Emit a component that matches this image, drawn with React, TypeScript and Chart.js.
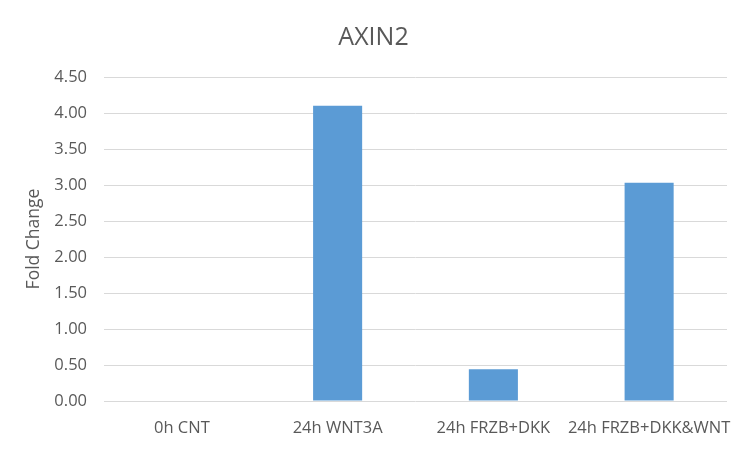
import React, { useEffect, useRef } from "react";
import { Chart, registerables } from "chart.js";

Chart.register(...registerables);

const categories = ["0h CNT", "24h WNT3A", "24h FRZB+DKK", "24h FRZB+DKK&WNT"];
const foldChange = [0, 4.1, 0.44, 3.03];
const titleText = "AXIN2";
const yAxisTitle = "Fold Change";

export default function App() {
  const ref = useRef<HTMLCanvasElement | null>(null);

  useEffect(() => {
    document.body.style.margin = "0";
    if (!ref.current) return;
    const font = "'Open Sans', 'Liberation Sans', sans-serif";
    const chart = new Chart(ref.current, {
      type: "bar",
      data: {
        labels: categories,
        datasets: [
          {
            label: titleText,
            data: foldChange,
            backgroundColor: "#5b9bd5",
            categoryPercentage: 1,
            barPercentage: 0.315,
          },
        ],
      },
      options: {
        animation: false,
        responsive: false,
        maintainAspectRatio: false,
        layout: { padding: { left: 20, right: 23, top: 15, bottom: 10 } },
        plugins: {
          legend: { display: false },
          tooltip: { enabled: false },
          title: {
            display: true,
            text: titleText,
            color: "#595959",
            font: { family: font, size: 25, weight: "normal", lineHeight: 1.2 },
            padding: { top: 8, bottom: 24 },
          },
        },
        scales: {
          x: {
            grid: { display: false },
            border: { display: false },
            ticks: {
              color: "#595959",
              font: { family: font, size: 16.5 },
              padding: 9,
              maxRotation: 0,
              autoSkip: false,
            },
            afterFit: (s: any) => {
              s.height = 39;
            },
          },
          y: {
            min: 0,
            max: 4.5,
            grid: { color: "#d9d9d9", drawTicks: false, lineWidth: 1 },
            border: { display: false },
            ticks: {
              stepSize: 0.5,
              color: "#595959",
              font: { family: font, size: 16.5 },
              padding: 17,
              callback: (v: any) => Number(v).toFixed(2),
            },
            title: {
              display: true,
              text: yAxisTitle,
              color: "#595959",
              font: { family: font, size: 17.5, lineHeight: 1.2 },
              padding: { top: 4, bottom: 4 },
            },
            afterFit: (s: any) => {
              s.width = 84;
            },
          },
        },
      },
    });
    return () => chart.destroy();
  }, []);

  return (
    <div style={{ width: 750, height: 450, background: "#fff" }}>
      <canvas ref={ref} width={750} height={450} style={{ width: 750, height: 450 }} />
    </div>
  );
}
